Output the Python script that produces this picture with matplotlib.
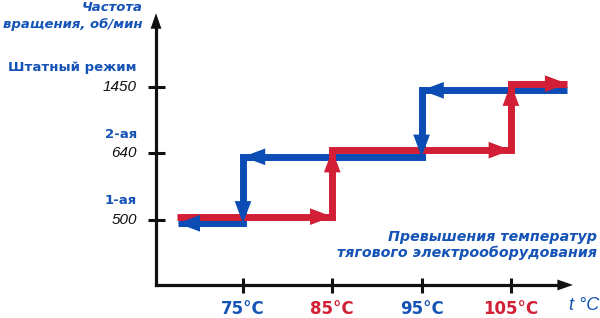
import matplotlib
matplotlib.use("Agg")
import matplotlib.pyplot as plt

# Data
levels = [0, 1, 2]                      # rotation speed steps
level_values = ["500", "640", "1450"]
level_names = ["1-ая", "2-ая", "Штатный режим"]
temps = [75, 85, 95, 105]
temp_labels = ["75°C", "85°C", "95°C", "105°C"]

# heating (red) and cooling (blue) paths
heat_t = [67.6, 85, 85, 105, 105, 111.3]
heat_lvl = [0, 0, 1, 1, 2, 2]
cool_t = [111.3, 95, 95, 75, 75, 67.7]
cool_lvl = [2, 2, 1, 1, 0, 0]

RED = "#d21f36"
BLUE = "#0b4db5"
TXT_BLUE = "#1553b6"

fig = plt.figure(figsize=(6, 3.18), dpi=100)
ax = fig.add_axes([0, 0, 1, 1])
ax.set_xlim(47.79, 114.98)
ax.set_ylim(-1.4737, 3.308)
ax.axis("off")

# axes with arrows
x0, y0 = 65.26, -0.977
ax.plot([x0, x0], [y0, 2.9], color="#111111", lw=2.3, solid_capstyle="projecting")
ax.plot([x0, 111.0], [y0, y0], color="#111111", lw=2.3, solid_capstyle="projecting")
ax.annotate("", xy=(x0, 3.11), xytext=(x0, 2.8),
            arrowprops=dict(arrowstyle="-|>,head_length=0.8,head_width=0.28",
                            mutation_scale=14, color="#111111", lw=0,
                            shrinkA=0, shrinkB=0))
ax.annotate("", xy=(111.95, y0), xytext=(109.5, y0),
            arrowprops=dict(arrowstyle="-|>,head_length=0.8,head_width=0.28",
                            mutation_scale=14, color="#111111", lw=0,
                            shrinkA=0, shrinkB=0))

# tick marks
ax.hlines(levels, 64.4, 66.3, color="#111111", lw=2.2)
ax.vlines(temps, -0.872, -1.098, color="#111111", lw=2.2)


def draw_path(ts, ls, off, color):
    ys = [l + off for l in ls]
    ax.plot(ts, ys, color=color, lw=5, solid_capstyle="butt",
            solid_joinstyle="miter")
    for i in range(len(ts) - 1):
        ax.annotate("", xy=(ts[i + 1], ys[i + 1]), xytext=(ts[i], ys[i]),
                    arrowprops=dict(arrowstyle="-|>,head_length=0.8,head_width=0.3",
                                    mutation_scale=20, color=color, lw=0,
                                    shrinkA=0, shrinkB=0))


draw_path(cool_t, cool_lvl, -0.05, BLUE)
draw_path(heat_t, heat_lvl, 0.05, RED)

# y labels
for lvl, val, name in zip(levels, level_values, level_names):
    ax.text(63.13, lvl, val, ha="right", va="center", fontsize=11,
            family="Liberation Sans", style="italic", color="#111111")
    ax.text(63.13, lvl + 0.29, name, ha="right", va="center", fontsize=9.5,
            family="DejaVu Sans", weight="bold", color=TXT_BLUE)

ax.text(63.8, 3.19, "Частота", ha="right", va="center", fontsize=9.5,
        weight="bold", style="italic", color=TXT_BLUE)
ax.text(63.8, 2.94, "вращения, об/мин", ha="right", va="center", fontsize=9.5,
        weight="bold", style="italic", color=TXT_BLUE)

ax.text(114.64, -0.256, "Превышения температур", ha="right", va="center",
        fontsize=10.3, weight="bold", style="italic", color=TXT_BLUE)
ax.text(114.64, -0.496, "тягового электрооборудования", ha="right", va="center",
        fontsize=10.3, weight="bold", style="italic", color=TXT_BLUE)

# x labels
for t, lab, c in zip(temps, temp_labels, [TXT_BLUE, RED, TXT_BLUE, RED]):
    ax.text(t, -1.338, lab, ha="center", va="center", fontsize=12,
            weight="bold", color=c)
ax.text(114.85, -1.293, "t °C", ha="right", va="center", fontsize=13,
        family="Liberation Sans", style="italic", color=TXT_BLUE)

fig.savefig("out.png", dpi=100)
